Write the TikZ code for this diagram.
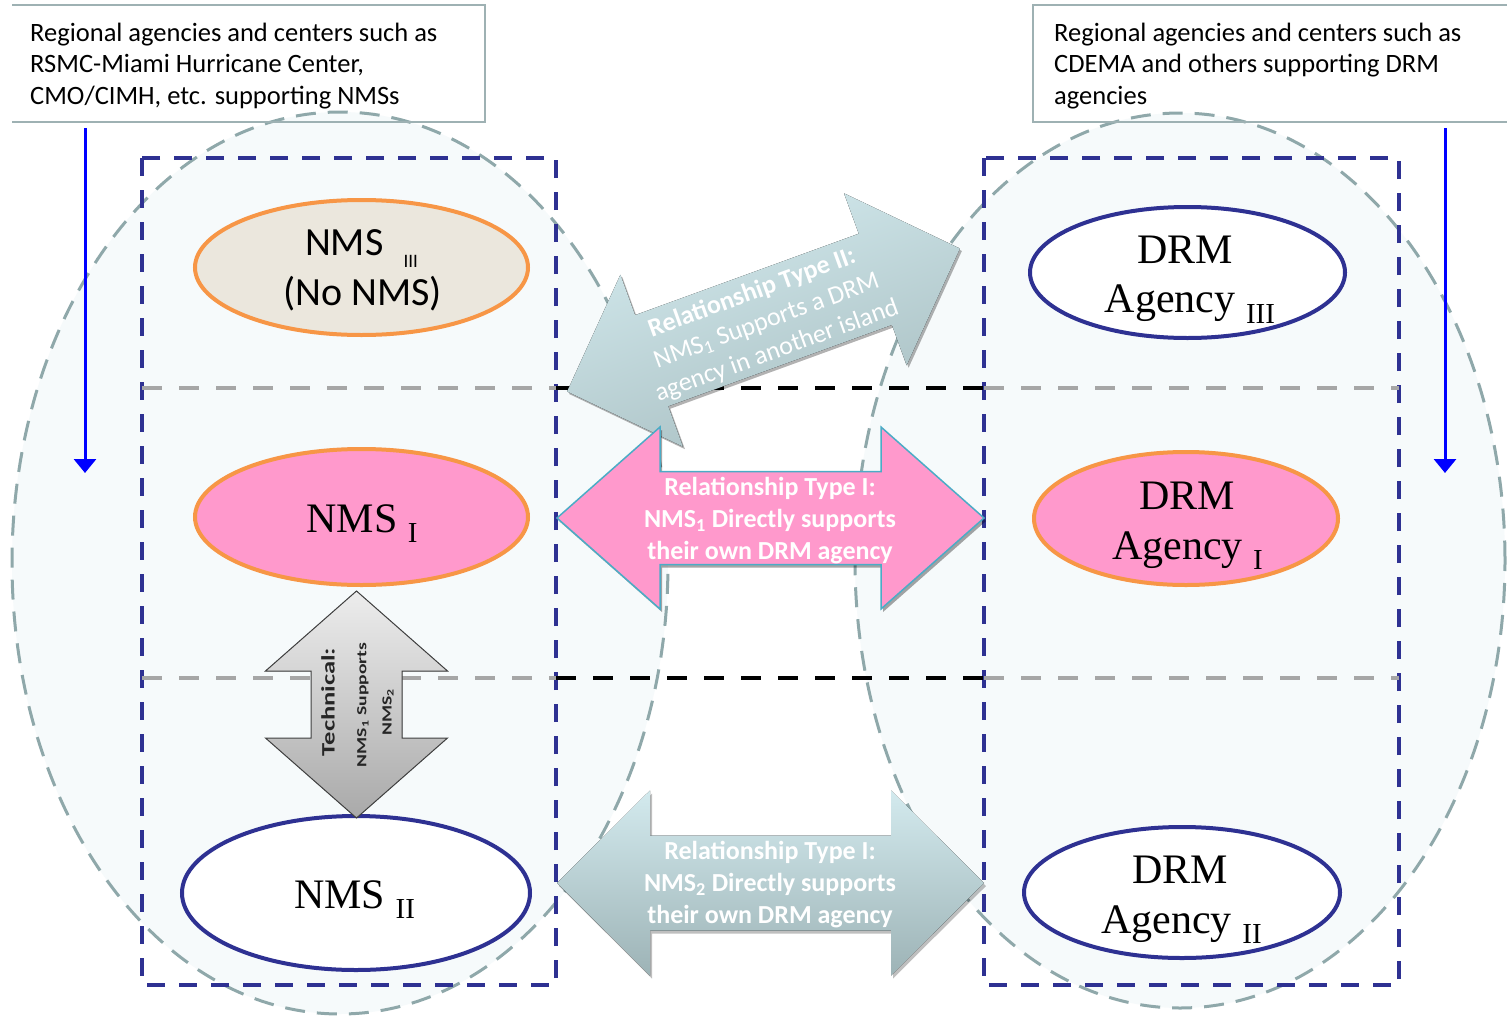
\documentclass[tikz,border=0pt]{standalone}
\usepackage{fontspec}
\setmainfont{Liberation Serif}
\newfontfamily\calib{Carlito}
\usetikzlibrary{shapes.geometric,arrows.meta}
\definecolor{navy}{HTML}{2E3192}
\definecolor{orng}{HTML}{F79646}
\definecolor{pnk}{HTML}{FF99CC}
\definecolor{tanc}{HTML}{EBE7DD}
\definecolor{ellb}{HTML}{8FA8AA}
\definecolor{ellf}{HTML}{F6FAFB}
\definecolor{boxb}{HTML}{9EB1B3}
\definecolor{tealb}{HTML}{4BACC6}
\definecolor{gtop}{HTML}{D3EAEE}
\definecolor{gbot}{HTML}{9DB3B6}
\definecolor{dgbot}{HTML}{A9BFC2}
\definecolor{gline}{HTML}{A6A6A6}
\definecolor{techtop}{HTML}{EDEDED}
\definecolor{techbot}{HTML}{A9A9A9}
\newcommand\lowsub[3]{\raisebox{-#1}{\fontsize{#2}{#2}\selectfont #3}}
\newcommand\darrpath[4]{({-#1/2},0) -- ({-#1/2+#2},{-#3/2}) -- ({-#1/2+#2},{-#4/2}) -- ({#1/2-#2},{-#4/2}) -- ({#1/2-#2},{-#3/2}) -- ({#1/2},0) -- ({#1/2-#2},{#3/2}) -- ({#1/2-#2},{#4/2}) -- ({-#1/2+#2},{#4/2}) -- ({-#1/2+#2},{#3/2}) -- cycle}
\begin{document}
\begin{tikzpicture}[x=1pt,y=-1pt,
  region/.style={ellipse, draw=ellb, fill=ellf, line width=3pt, dash pattern=on 20pt off 12pt, inner sep=0pt},
  navyrect/.style={draw=navy, line width=4.5pt, dash pattern=on 18pt off 14pt},
  grayline/.style={draw=gline, line width=4.5pt, dash pattern=on 20pt off 17pt},
  blackline/.style={draw=black, line width=4.5pt, dash pattern=on 20pt off 17pt},
  agency/.style={ellipse, line width=4pt, inner sep=0pt},
  orell/.style={agency, draw=orng},
  nvell/.style={agency, draw=navy, fill=white},
  serif/.style={font=\fontsize{42}{50}\selectfont, inner sep=0pt, anchor=base},
  cal/.style={font=\calib\fontsize{40}{48}\selectfont, inner sep=0pt, anchor=base},
  boxtxt/.style={font=\calib\fontsize{26.5}{32}\selectfont, inner sep=0pt, anchor=base west},
  boxline/.style={draw=boxb, line width=1.5pt},
  arrtxt/.style={font=\calib\bfseries\fontsize{26}{32}\selectfont, text=white, align=center, inner sep=0pt},
  difftxt/.style={font=\calib\fontsize{26}{32}\selectfont, text=white, inner sep=0pt, rotate=20},
  bluearrow/.style={draw=blue, line width=3pt, -{Triangle[width=22pt,length=14pt]}},
  techtxt/.style={text=black!85, inner sep=0pt, rotate=90}
]
\useasboundingbox (0,0) rectangle (1507,1017);
\clip (0,0) rectangle (1507,1017);
\fill[white] (0,0) rectangle (1507,1017);

% regions
\node[region, minimum width=656pt, minimum height=902pt] (lreg) at (340,563) {};
\node[region, minimum width=650pt, minimum height=895pt] (rreg) at (1180,560.5) {};

% dashed frames
\draw[navyrect] (142,158) rectangle (556,985);
\draw[navyrect] (984,158) rectangle (1399,985);

% dividers
\draw[grayline] (142,388) -- (556,388);
\draw[blackline] (556,388) -- (984,388);
\draw[grayline] (984,388) -- (1399,388);
\draw[grayline] (142,678) -- (556,678);
\draw[blackline] (556,678) -- (984,678);
\draw[grayline] (984,678) -- (1399,678);

% ellipses
\node[orell, fill=tanc, minimum width=333pt, minimum height=135pt] (e1) at (361.5,267.5) {};
\node[cal] (e1a) at (361.5,255) {NMS\hspace{20pt}\lowsub{12pt}{19}{III}};
\node[cal] (e1b) at (362.5,305) {(No NMS)};

\node[nvell, minimum width=315pt, minimum height=131pt] (e2) at (1187.5,272.5) {};
\node[serif] (e2a) at (1185,263) {DRM};
\node[serif] (e2b) at (1190,312) {Agency \lowsub{11pt}{29}{III}};

\node[orell, fill=pnk, minimum width=333pt, minimum height=136pt] (e3) at (361.5,517) {};
\node[serif] (e3a) at (362,532) {NMS \lowsub{10pt}{29}{I}};

\node[orell, fill=pnk, minimum width=304pt, minimum height=133pt] (e4) at (1186,518.5) {};
\node[serif] (e4a) at (1187,509) {DRM};
\node[serif] (e4b) at (1187.5,559) {Agency \lowsub{10pt}{29}{I}};

\node[nvell, minimum width=348pt, minimum height=154pt] (e5) at (356,893) {};
\node[serif] (e5a) at (354.5,908) {NMS \lowsub{10pt}{29}{II}};

\node[nvell, minimum width=316pt, minimum height=131pt] (e6) at (1182,892.5) {};
\node[serif] (e6a) at (1180,883) {DRM};
\node[serif] (e6b) at (1181.5,933) {Agency \lowsub{10pt}{29}{II}};

% block arrows
\begin{scope}[shift={(763.5,320)}, rotate=20]
  \fill[black, opacity=0.3, shift={(1,3)}] \darrpath{418}{90}{183}{97};
  \fill[top color=gtop, bottom color=dgbot, shading angle=20] \darrpath{418}{90}{183}{97};
\end{scope}
\begin{scope}[shift={(770.5,518)}]
  \fill[black, opacity=0.35, shift={(2,3)}] \darrpath{427}{103}{182}{93};
  \filldraw[fill=pnk, draw=tealb, line width=1.5pt] \darrpath{427}{103}{182}{93};
\end{scope}
\begin{scope}[shift={(770.5,883)}]
  \fill[black, opacity=0.25, shift={(2,3)}] \darrpath{427}{93}{185}{95};
  \fill[top color=gtop, bottom color=gbot] \darrpath{427}{93}{185}{95};
\end{scope}
\begin{scope}[shift={(356.5,704.5)}, rotate=90]
  \filldraw[draw=black!75, line width=1pt, top color=techtop, bottom color=techbot] \darrpath{227}{80}{182}{91};
\end{scope}

% arrow texts
\node[difftxt, font=\calib\bfseries\fontsize{26}{32}\selectfont] (t2a) at (752,293) {Relationship Type II:};
\node[difftxt] (t2b) at (767,322) {NMS\textsubscript{1} Supports a DRM};
\node[difftxt] (t2c) at (777,351) {agency in another island};
\node[arrtxt] (t1) at (770,521) {Relationship Type I:\\NMS\textsubscript{1} Directly supports\\their own DRM agency};
\node[arrtxt] (t3) at (770,885) {Relationship Type I:\\NMS\textsubscript{2} Directly supports\\their own DRM agency};
\node[techtxt] (tc1) at (328,702) {\scalebox{1.4}[1]{\calib\bfseries\fontsize{19}{19}\selectfont Technical:}};
\node[techtxt] (tc2) at (363,705) {\scalebox{1.4}[1]{\calib\bfseries\fontsize{14}{14}\selectfont NMS\textsubscript{1} Supports}};
\node[techtxt] (tc3) at (388,712) {\scalebox{1.4}[1]{\calib\bfseries\fontsize{14}{14}\selectfont NMS\textsubscript{2}}};

% top boxes
\draw[boxline] (12,5) -- (485,5) -- (485,122) -- (12,122);
\draw[boxline] (1507,5) -- (1033,5) -- (1033,122) -- (1507,122);
\node[boxtxt] (l1) at (30,41) {Regional agencies and centers such as};
\node[boxtxt] (l2) at (30,72) {RSMC-Miami Hurricane Center,};
\node[boxtxt] (l3) at (30,104) {CMO/CIMH, etc. supporting NMSs};
\node[boxtxt] (r1) at (1054,41) {Regional agencies and centers such as};
\node[boxtxt] (r2) at (1054,72) {CDEMA and others supporting DRM};
\node[boxtxt] (r3) at (1054,104) {agencies};

% blue arrows
\coordinate (ba1) at (85,128);
\coordinate (ba2) at (85,473);
\coordinate (bb1) at (1445,128);
\coordinate (bb2) at (1445,473);
\draw[bluearrow] (ba1) -- (ba2);
\draw[bluearrow] (bb1) -- (bb2);
\end{tikzpicture}
\end{document}
